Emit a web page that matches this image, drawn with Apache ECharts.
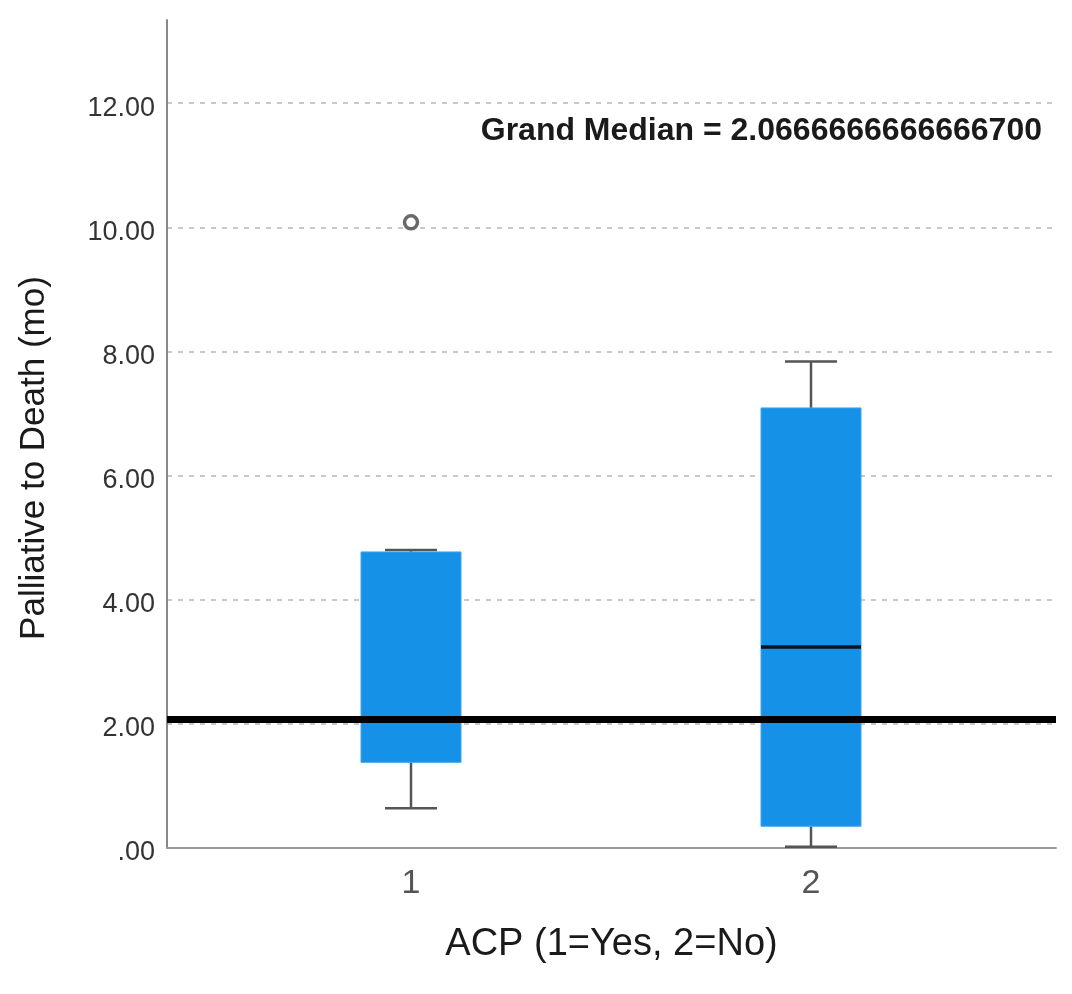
<!DOCTYPE html>
<html>
<head>
<meta charset="utf-8">
<script src="https://cdn.jsdelivr.net/npm/echarts@6/dist/echarts.min.js"></script>
<style>html,body{margin:0;padding:0;background:#fff}#main{width:1072px;height:994px}</style>
</head>
<body>
<div id="main"></div>
<script>
// Data
const groups = [1, 2];
const groupLabels = ['1', '2'];
// [low whisker, Q1, median, Q3, high whisker]
const boxStats = [
  [0.64, 1.38, 2.07, 4.77, 4.80],
  [0.02, 0.35, 3.24, 7.09, 7.84]
];
const outliers = [[1, 10.08]];
const grandMedian = 2.0666666666666700;
const yTicks = [0, 2, 4, 6, 8, 10, 12];

const FONT = 'Liberation Sans, Arial, sans-serif';
const boxData = groups.map((g, i) => [g].concat(boxStats[i]));

const chart = echarts.init(document.getElementById('main'));
chart.setOption({
  backgroundColor: '#fff',
  animation: false,
  grid: { left: 167, right: 16, top: 20, bottom: 146 },
  xAxis: {
    type: 'value',
    min: 0.39,
    max: 2.6125,
    axisLine: { show: true, lineStyle: { color: '#999', width: 2 } },
    axisTick: { show: false },
    splitLine: { show: false },
    axisLabel: {
      margin: 19,
      fontSize: 34,
      color: '#555',
      fontFamily: FONT,
      showMinLabel: false,
      showMaxLabel: false,
      formatter: v => {
        const idx = groups.indexOf(v);
        return idx >= 0 ? groupLabels[idx] : '';
      }
    },
    name: 'ACP (1=Yes, 2=No)',
    nameLocation: 'middle',
    nameGap: 78,
    nameTextStyle: { fontSize: 38, color: '#1a1a1a', fontFamily: FONT }
  },
  yAxis: {
    type: 'value',
    min: 0,
    max: 13.34,
    interval: 2,
    axisLine: { show: true, lineStyle: { color: '#888', width: 2 } },
    axisTick: { show: false },
    axisLabel: {
      margin: 12,
      fontSize: 27,
      color: '#333',
      fontFamily: FONT,
      verticalAlign: 'top',
      lineHeight: 10,
      showMaxLabel: false,
      formatter: v => (yTicks.indexOf(v) < 0 ? '' : (v === 0 ? '.00' : v.toFixed(2)))
    },
    splitLine: {
      show: true,
      showMinLine: false,
      showMaxLine: false,
      lineStyle: { color: '#c8c8c8', width: 2, type: [5, 6] }
    }
  },
  graphic: [
    {
      type: 'text',
      x: 34, y: 458,
      rotation: Math.PI / 2,
      style: {
        text: 'Palliative to Death (mo)',
        font: '35px ' + FONT,
        fill: '#1a1a1a',
        align: 'center',
        verticalAlign: 'middle'
      }
    },
    {
      type: 'text',
      x: 1042, y: 131,
      style: {
        text: 'Grand Median = ' + '2.0666666666666700',
        font: 'bold 32px ' + FONT,
        fill: '#1a1a1a',
        align: 'right',
        verticalAlign: 'middle'
      }
    }
  ],
  series: [
    {
      type: 'custom',
      z: 2,
      data: boxData,
      renderItem: function (params, api) {
        const x = api.value(0);
        const low = api.coord([x, api.value(1)]);
        const q1 = api.coord([x, api.value(2)]);
        const med = api.coord([x, api.value(3)]);
        const q3 = api.coord([x, api.value(4)]);
        const high = api.coord([x, api.value(5)]);
        const half = 50, cap = 26;
        const cx = low[0];
        const wStyle = { stroke: '#555', lineWidth: 2.5 };
        return {
          type: 'group',
          children: [
            { type: 'line', shape: { x1: cx, y1: q1[1], x2: cx, y2: low[1] }, style: wStyle },
            { type: 'line', shape: { x1: cx, y1: q3[1], x2: cx, y2: high[1] }, style: wStyle },
            { type: 'line', shape: { x1: cx - cap, y1: low[1], x2: cx + cap, y2: low[1] }, style: wStyle },
            { type: 'line', shape: { x1: cx - cap, y1: high[1], x2: cx + cap, y2: high[1] }, style: wStyle },
            { type: 'rect', shape: { x: cx - half, y: q3[1], width: half * 2, height: q1[1] - q3[1] }, style: { fill: '#1592e7', stroke: '#3fa6ef', lineWidth: 1 } },
            { type: 'line', shape: { x1: cx - half, y1: med[1], x2: cx + half, y2: med[1] }, style: { stroke: '#0a1420', lineWidth: 3.5 } }
          ]
        };
      }
    },
    {
      type: 'scatter',
      z: 3,
      data: outliers,
      symbol: 'circle',
      symbolSize: 13,
      itemStyle: { color: '#fff', borderColor: '#444', borderWidth: 3.5 },
      markLine: {
        silent: true,
        symbol: ['none', 'none'],
        z: 10,
        label: { show: false },
        lineStyle: { color: '#000', width: 7, type: 'solid' },
        data: [{ yAxis: grandMedian }]
      }
    }
  ]
});
</script>
</body>
</html>
